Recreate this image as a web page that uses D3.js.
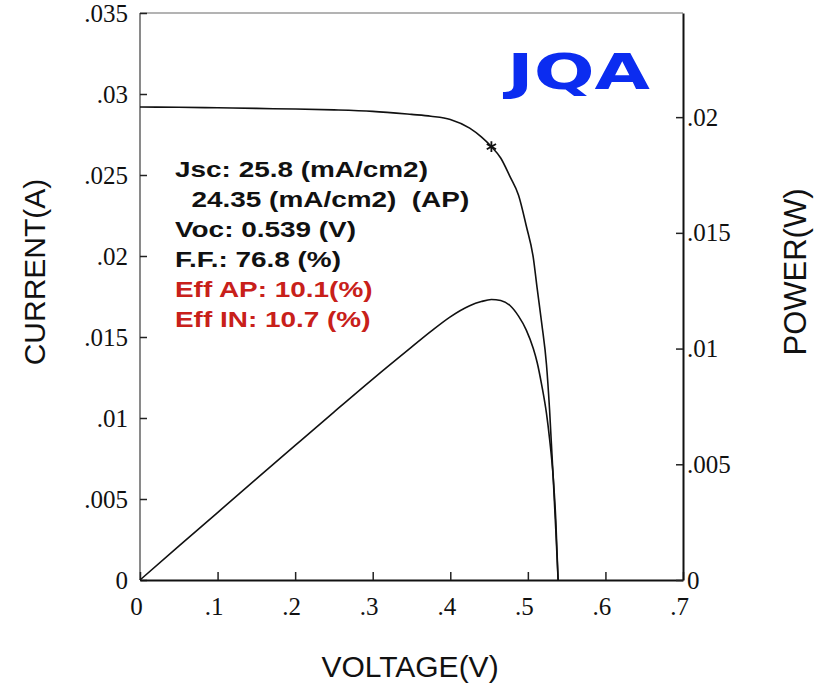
<!DOCTYPE html>
<html>
<head>
<meta charset="utf-8">
<script src="https://cdn.jsdelivr.net/npm/d3@7"></script>
<style>
  html, body { margin: 0; padding: 0; background: #fff; }
  svg { display: block; }
</style>
</head>
<body>
<svg id="chart" width="817" height="685"></svg>
<script>
// ---- data ----
const voltage = [0, 0.05, 0.1, 0.15, 0.2, 0.25, 0.3, 0.35, 0.375, 0.4, 0.425, 0.44, 0.453, 0.465, 0.477, 0.488, 0.498, 0.507, 0.512, 0.518, 0.524, 0.528, 0.533, 0.536, 0.539];
const current = [0.0292, 0.02918, 0.02915, 0.02911, 0.02907, 0.02902, 0.02893, 0.02874, 0.02863, 0.02843, 0.02789, 0.02735, 0.02675, 0.02605, 0.0249, 0.02375, 0.02185, 0.0199, 0.018, 0.0158, 0.0133, 0.0105, 0.006, 0.0031, 0];
const power = [0, 0.00146, 0.002915, 0.004367, 0.005814, 0.007255, 0.00868, 0.01006, 0.01074, 0.01137, 0.01185, 0.01203, 0.01212, 0.01208, 0.01186, 0.0114, 0.0108, 0.0100, 0.0094, 0.0084, 0.0072, 0.0061, 0.0043, 0.0026, 0];
const maxPowerPoint = { v: 0.453, i: 0.02675 };
const xTicks = [0, 0.1, 0.2, 0.3, 0.4, 0.5, 0.6, 0.7];
const currentTicks = [0, 0.005, 0.01, 0.015, 0.02, 0.025, 0.03, 0.035];
const powerTicks = [0, 0.005, 0.01, 0.015, 0.02];
const infoLines = [
  { text: "Jsc: 25.8 (mA/cm2)", indent: 0, color: "#111" },
  { text: "24.35 (mA/cm2)  (AP)", indent: 13, color: "#111" },
  { text: "Voc: 0.539 (V)", indent: 0, color: "#111" },
  { text: "F.F.: 76.8 (%)", indent: 0, color: "#111" },
  { text: "Eff AP: 10.1(%)", indent: 0, color: "#c8201a" },
  { text: "Eff IN: 10.7 (%)", indent: 0, color: "#c8201a" }
];
const xTitle = "VOLTAGE(V)";
const yLeftTitle = "CURRENT(A)";
const yRightTitle = "POWER(W)";
const logoText = "JQA";

// ---- layout ----
const L = 140, R = 683, T = 13, B = 580;
const svg = d3.select("#chart");

const x = d3.scaleLinear().domain([0, 0.7]).range([L, R]);
const yI = d3.scaleLinear().domain([0, 0.035]).range([B, T]);
const yP = d3.scaleLinear().domain([0, 0.0245]).range([B, T]);

const fmt = d => d === 0 ? "0" : d3.format(".3~f")(d).replace(/^0/, "");
const tickFont = "'Liberation Serif', 'Times New Roman', serif";

// frame (top & left gray)
svg.append("line").attr("x1", L).attr("x2", R).attr("y1", T).attr("y2", T)
  .attr("stroke", "#9a9a9a").attr("stroke-width", 1.5);
svg.append("line").attr("x1", L).attr("x2", L).attr("y1", T).attr("y2", B)
  .attr("stroke", "#8a8a8a").attr("stroke-width", 2);

// left axis
const gl = svg.append("g").attr("transform", `translate(${L},0)`)
  .call(d3.axisLeft(yI).tickValues(currentTicks).tickFormat(fmt).tickSize(-7).tickSizeOuter(0).tickPadding(12));
gl.select(".domain").remove();
gl.selectAll(".tick line").attr("stroke", "#222").attr("stroke-width", 1.5);
gl.selectAll(".tick text").attr("font-family", tickFont).attr("font-size", 25).attr("fill", "#111");

// bottom axis
const gb = svg.append("g").attr("transform", `translate(0,${B})`)
  .call(d3.axisBottom(x).tickValues(xTicks).tickFormat(fmt).tickSize(-8).tickSizeOuter(0).tickPadding(17));
gb.select(".domain").attr("stroke", "#111").attr("stroke-width", 2);
gb.selectAll(".tick line").attr("stroke", "#222").attr("stroke-width", 1.5);
gb.selectAll(".tick text").attr("font-family", tickFont).attr("font-size", 25).attr("fill", "#111").attr("dx", -4);

// right axis
const gr = svg.append("g").attr("transform", `translate(${R},0)`)
  .call(d3.axisRight(yP).tickValues(powerTicks).tickFormat(fmt).tickSize(-7).tickSizeOuter(0).tickPadding(4));
gr.select(".domain").attr("stroke", "#111").attr("stroke-width", 2);
gr.selectAll(".tick line").attr("stroke", "#222").attr("stroke-width", 1.5);
gr.selectAll(".tick text").attr("font-family", tickFont).attr("font-size", 25).attr("fill", "#111");

// curves
const ivData = voltage.map((v, k) => ({ v, i: current[k], p: power[k] }));
const lineI = d3.line().x(d => x(d.v)).y(d => yI(d.i)).curve(d3.curveMonotoneX);
const lineP = d3.line().x(d => x(d.v)).y(d => yP(d.p)).curve(d3.curveMonotoneX);
svg.append("path").datum(ivData).attr("d", lineI)
  .attr("fill", "none").attr("stroke", "#111").attr("stroke-width", 1.6);
svg.append("path").datum(ivData).attr("d", lineP)
  .attr("fill", "none").attr("stroke", "#111").attr("stroke-width", 1.6);

// max power marker
svg.append("path")
  .attr("d", d3.symbol().type(d3.symbolAsterisk).size(80)())
  .attr("transform", `translate(${x(maxPowerPoint.v)},${yI(maxPowerPoint.i)})`)
  .attr("fill", "none").attr("stroke", "#111").attr("stroke-width", 1.8);

// info text block
const info = svg.append("g").attr("transform", "translate(175,0) scale(1.27,1)");
info.selectAll("text").data(infoLines).join("text")
  .attr("x", d => d.indent)
  .attr("y", (d, k) => 177 + k * 30)
  .attr("font-family", "'Liberation Sans', Arial, sans-serif")
  .attr("font-weight", "bold")
  .attr("font-size", 22)
  .attr("fill", d => d.color)
  .style("white-space", "pre")
  .text(d => d.text);

// logo
svg.append("text")
  .attr("x", 507).attr("y", 89)
  .attr("font-family", "'DejaVu Sans', sans-serif")
  .attr("font-weight", "bold")
  .attr("font-size", 50)
  .attr("textLength", 143)
  .attr("lengthAdjust", "spacingAndGlyphs")
  .attr("fill", "#0b2cf0")
  .text(logoText);

// axis titles
const titleFont = "'Liberation Sans', Arial, sans-serif";
svg.append("text")
  .attr("x", 410).attr("y", 677)
  .attr("text-anchor", "middle")
  .attr("font-family", titleFont).attr("font-size", 30).attr("fill", "#111")
  .text(xTitle);
svg.append("text")
  .attr("transform", "translate(45,272) rotate(-90)")
  .attr("text-anchor", "middle")
  .attr("font-family", titleFont).attr("font-size", 30).attr("fill", "#111")
  .text(yLeftTitle);
svg.append("text")
  .attr("transform", "translate(806,272) rotate(-90)")
  .attr("text-anchor", "middle")
  .attr("font-family", titleFont).attr("font-size", 31).attr("fill", "#111")
  .text(yRightTitle);
</script>
</body>
</html>
